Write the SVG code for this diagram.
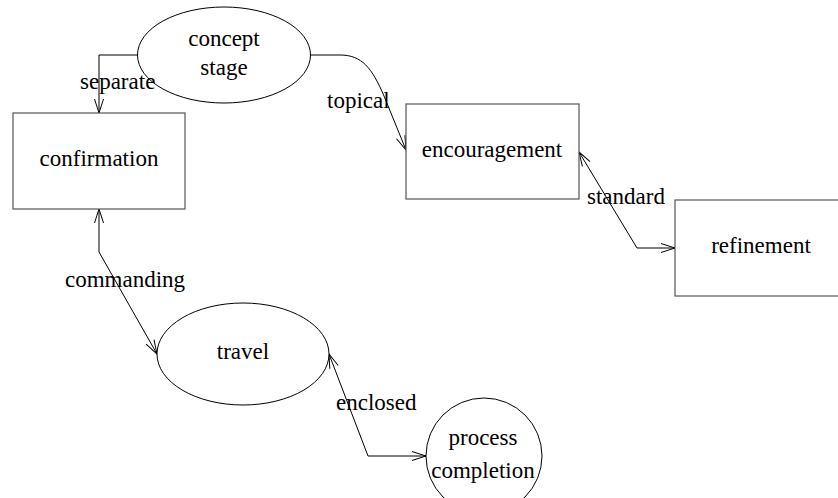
<svg xmlns="http://www.w3.org/2000/svg" width="838" height="498" viewBox="0 0 838 498">
<style>
text{font-family:"Liberation Serif","Times New Roman",serif;font-size:23px;fill:#000;text-anchor:middle}
.box{fill:#fff;stroke:#555;stroke-width:1.2}
.ell{fill:#fff;stroke:#000;stroke-width:1}
.edge{fill:none;stroke:#000;stroke-width:1}
.lbl{text-anchor:start}
</style>
<defs>
<marker id="arr" markerWidth="16" markerHeight="12" refX="15" refY="6" orient="auto-start-reverse" markerUnits="userSpaceOnUse">
<path d="M1,1.5 L15,6 L1,10.5" fill="none" stroke="#000" stroke-width="1"/>
</marker>
</defs>
<g id="edges">
<path class="edge" d="M138,55 L99,55 L99,113" marker-end="url(#arr)"/>
<path class="edge" d="M311,55 L340,55 C362,55 372,68 384,96 L406,150" marker-end="url(#arr)"/>
<path class="edge" d="M579,152 L637,248 L675,248" marker-start="url(#arr)" marker-end="url(#arr)"/>
<path class="edge" d="M99,209 L99,252 L157,354" marker-start="url(#arr)" marker-end="url(#arr)"/>
<path class="edge" d="M329,354 L368,456 L426,456" marker-start="url(#arr)" marker-end="url(#arr)"/>
</g>
<g id="node-confirmation">
<rect class="box" x="13" y="113" width="172" height="96"/>
<text x="99" y="166">confirmation</text>
</g>
<g id="node-encouragement">
<rect class="box" x="406" y="104" width="173" height="95"/>
<text x="492" y="157">encouragement</text>
</g>
<g id="node-refinement">
<rect class="box" x="675" y="200" width="173" height="96"/>
<text x="761" y="253">refinement</text>
</g>
<g id="node-concept-stage">
<ellipse class="ell" cx="224" cy="55" rx="86.5" ry="48"/>
<text x="224" y="46">concept</text>
<text x="224" y="75">stage</text>
</g>
<g id="node-travel">
<ellipse class="ell" cx="243" cy="354" rx="86" ry="51"/>
<text x="243" y="359">travel</text>
</g>
<g id="node-process-completion">
<circle class="ell" cx="484" cy="456" r="58"/>
<text x="483" y="445">process</text>
<text x="483" y="478">completion</text>
</g>
<g id="labels">
<text class="lbl" x="80" y="89">separate</text>
<text class="lbl" x="327" y="108">topical</text>
<text class="lbl" x="587" y="204">standard</text>
<text class="lbl" x="65" y="287">commanding</text>
<text class="lbl" x="336" y="410">enclosed</text>
</g>
</svg>
